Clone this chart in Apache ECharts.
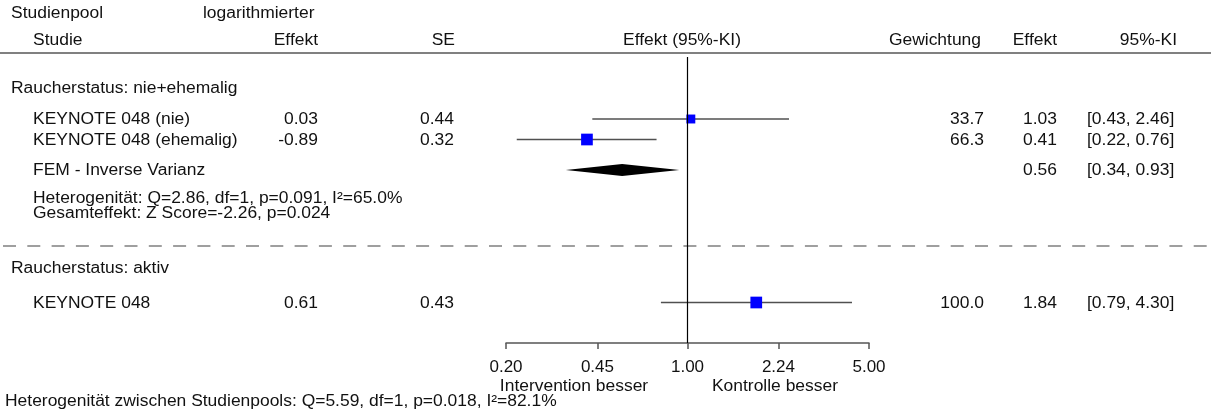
<!DOCTYPE html>
<html>
<head>
<meta charset="utf-8">
<script src="https://cdn.jsdelivr.net/npm/echarts@6/dist/echarts.min.js"></script>
<style>
  html, body { margin: 0; padding: 0; background: #fff; }
  #chart { width: 1211px; height: 416px; }
</style>
</head>
<body>
<div id="chart"></div>
<script>
// Studien (Reihenfolge wie im Plot)
const studies = ['KEYNOTE 048 (nie)', 'KEYNOTE 048 (ehemalig)', 'KEYNOTE 048']
const studyGroup = [0, 0, 1]
const logEffect = ['0.03', '-0.89', '0.61']
const seValues = ['0.44', '0.32', '0.43']
const weights = [33.7, 66.3, 100.0]
const effects = [1.03, 0.41, 1.84]
const ciLow = [0.43, 0.22, 0.79]
const ciHigh = [2.46, 0.76, 4.30]

// gepoolter Effekt (nur Gruppe nie+ehemalig)
const pooledEffect = [0.56]
const pooledLow = [0.34]
const pooledHigh = [0.93]

const groupTitles = ['Raucherstatus: nie+ehemalig', 'Raucherstatus: aktiv']
const tickValues = [0.2, 0.45, 1, 2.24, 5]

// Layout (Pixel-Zeilen)
const ROW_Y = [119, 139.5, 302.5]
const POOLED_Y = 170
const GROUP_Y = [88, 268]
const FONT = '16px "Liberation Sans", Arial, sans-serif'
const INK = '#111'

const chart = echarts.init(document.getElementById('chart'))

// Text etwas breit gezogen wie im Original
function txt(text, x, y, align) {
  return { type: 'text', x, y: y + 1, scaleX: 1.09, silent: true,
    style: { text, font: FONT, fill: INK, align: align || 'left', verticalAlign: 'middle' } }
}

const groupMax = [0, 0]
weights.forEach((w, i) => { groupMax[studyGroup[i]] = Math.max(groupMax[studyGroup[i]], w) })

const els = [
  txt('Studienpool', 11, 13), txt('logarithmierter', 203, 13),
  txt('Studie', 33, 40), txt('Effekt', 318, 40, 'right'), txt('SE', 455, 40, 'right'),
  txt('Effekt (95%-KI)', 682, 40, 'center'), txt('Gewichtung', 981, 40, 'right'),
  txt('Effekt', 1057, 40, 'right'), txt('95%-KI', 1177, 40, 'right'),
  { type: 'line', silent: true, shape: { x1: 0, y1: 53, x2: 1211, y2: 53 },
    style: { stroke: '#808080', lineWidth: 2 } },
  { type: 'line', silent: true, shape: { x1: 3, y1: 246, x2: 1211, y2: 246 },
    style: { stroke: '#808080', lineWidth: 1.5, lineDash: [13, 11.3] } },
  txt(groupTitles[0], 11, GROUP_Y[0]), txt(groupTitles[1], 11, GROUP_Y[1]),
  txt('FEM - Inverse Varianz', 33, POOLED_Y),
  txt(pooledEffect[0].toFixed(2), 1057, POOLED_Y, 'right'),
  txt('[' + pooledLow[0].toFixed(2) + ', ' + pooledHigh[0].toFixed(2) + ']', 1087, POOLED_Y),
  txt('Heterogenität: Q=2.86, df=1, p=0.091, I²=65.0%', 33, 198),
  txt('Gesamteffekt: Z Score=-2.26, p=0.024', 33, 213),
  txt('Intervention besser', 574, 386, 'center'), txt('Kontrolle besser', 775, 386, 'center'),
  txt('Heterogenität zwischen Studienpools: Q=5.59, df=1, p=0.018, I²=82.1%', 5, 401)
]
studies.forEach((name, i) => {
  const y = ROW_Y[i]
  els.push(txt(name, 33, y), txt(logEffect[i], 318, y, 'right'), txt(seValues[i], 454, y, 'right'),
    txt(weights[i].toFixed(1), 984, y, 'right'), txt(effects[i].toFixed(2), 1057, y, 'right'),
    txt('[' + ciLow[i].toFixed(2) + ', ' + ciHigh[i].toFixed(2) + ']', 1087, y))
})

chart.setOption({
  animation: false,
  grid: { left: 506, width: 363, top: 57, bottom: 73 },
  xAxis: {
    type: 'log', logBase: 10, min: 0.2, max: 5,
    axisLine: { lineStyle: { color: '#555', width: 1.5 } },
    axisTick: { show: true, length: 6, customValues: tickValues, lineStyle: { color: '#555', width: 1.5 } },
    axisLabel: { customValues: tickValues, margin: 16, color: INK,
      fontFamily: '"Liberation Sans", Arial, sans-serif', fontSize: 17,
      formatter: (v) => Number(v).toFixed(2) },
    splitLine: { show: false }, minorTick: { show: false }
  },
  yAxis: { type: 'value', min: 57, max: 343, inverse: true, show: false },
  graphic: { elements: els },
  series: [
    {
      type: 'custom', name: 'Studien',
      data: studies.map((s, i) => [effects[i], ciLow[i], ciHigh[i], ROW_Y[i], weights[i] / groupMax[studyGroup[i]]]),
      renderItem(params, api) {
        const y = api.value(3)
        const lo = api.coord([api.value(1), y])
        const hi = api.coord([api.value(2), y])
        const c = api.coord([api.value(0), y])
        const s = 11.7 * Math.pow(api.value(4), 0.4)
        return { type: 'group', children: [
          { type: 'line', shape: { x1: lo[0], y1: lo[1], x2: hi[0], y2: hi[1] }, style: { stroke: '#505050', lineWidth: 1.5 } },
          { type: 'rect', shape: { x: c[0] - s / 2, y: c[1] - s / 2, width: s, height: s }, style: { fill: '#0000ff' } }
        ] }
      },
      markLine: {
        silent: true, symbol: 'none', label: { show: false },
        lineStyle: { color: '#000', width: 1.2, type: 'solid' },
        data: [{ xAxis: 1 }]
      },
      z: 3
    },
    {
      type: 'custom', name: 'FEM',
      data: pooledEffect.map((e, i) => [e, pooledLow[i], pooledHigh[i], POOLED_Y]),
      renderItem(params, api) {
        const y = api.value(3)
        const lo = api.coord([api.value(1), y])
        const hi = api.coord([api.value(2), y])
        const c = api.coord([api.value(0), y])
        return { type: 'polygon',
          shape: { points: [[lo[0], lo[1]], [c[0], c[1] - 6], [hi[0], hi[1]], [c[0], c[1] + 6]] },
          style: { fill: '#000' } }
      },
      z: 3
    }
  ]
})
</script>
</body>
</html>
